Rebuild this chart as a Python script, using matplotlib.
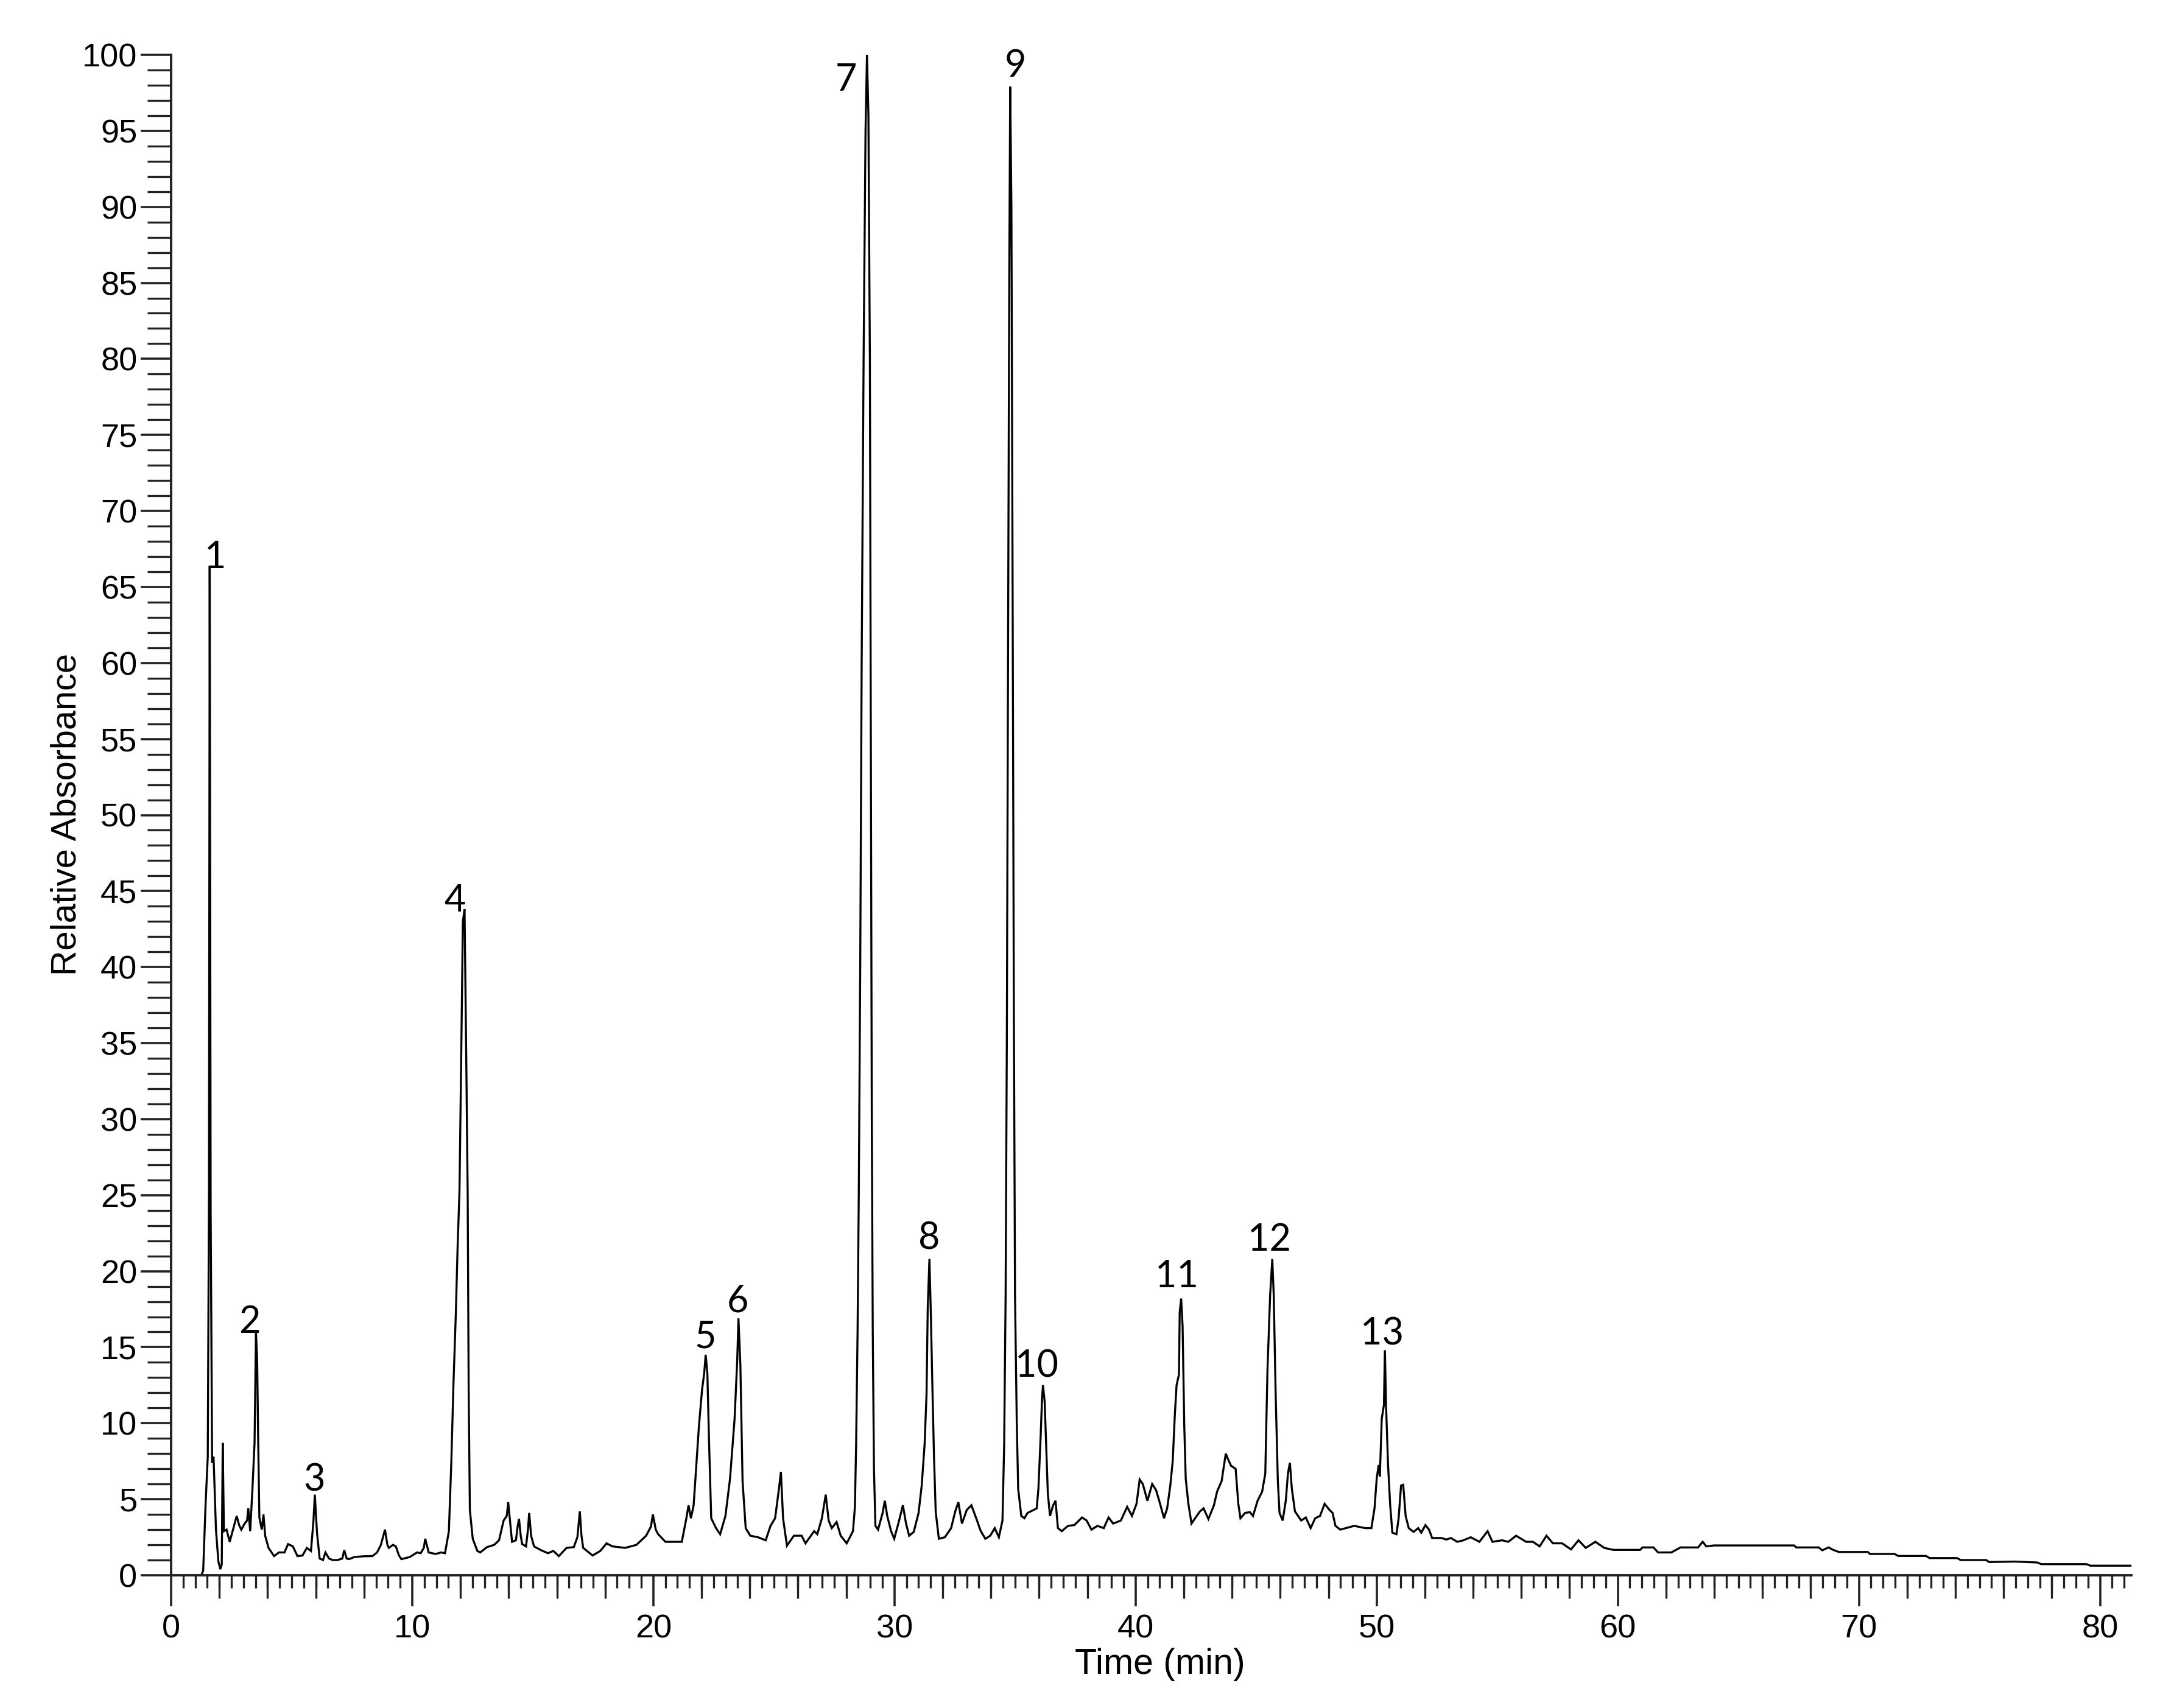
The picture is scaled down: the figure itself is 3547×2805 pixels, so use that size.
import numpy as np
import matplotlib
matplotlib.use("Agg")
import matplotlib.pyplot as plt
from matplotlib.ticker import MultipleLocator

# ---------------- data ----------------
time_min = [
    1.25, 1.33, 1.43, 1.52, 1.57, 1.60, 1.64, 1.70, 1.76, 1.86, 1.96, 2.04, 2.10, 2.14, 2.19,
    2.30, 2.43, 2.60, 2.72, 2.82, 2.91, 3.05, 3.15, 3.20, 3.28, 3.37, 3.46, 3.52, 3.57, 3.61,
    3.66, 3.76, 3.83, 3.90, 4.04, 4.27, 4.47, 4.70, 4.85, 5.05, 5.24, 5.45, 5.63, 5.80, 5.90,
    5.96, 6.05, 6.16, 6.30, 6.40, 6.55, 6.70, 6.90, 7.10, 7.18, 7.28, 7.38, 7.60, 8.00, 8.35,
    8.54, 8.70, 8.87, 8.97, 9.03, 9.20, 9.32, 9.45, 9.55, 9.90, 10.20, 10.35, 10.48, 10.54, 10.62,
    10.68, 10.97, 11.20, 11.36, 11.52, 11.62, 11.71, 11.81, 11.88, 11.96, 12.03, 12.10, 12.17, 12.25,
    12.30, 12.34, 12.39, 12.51, 12.70, 12.82, 13.10, 13.40, 13.60, 13.79, 13.92, 13.98, 14.06, 14.14,
    14.30, 14.38, 14.43, 14.50, 14.56, 14.72, 14.80, 14.85, 14.93, 15.05, 15.34, 15.63, 15.85, 16.08,
    16.40, 16.70, 16.85, 16.95, 17.02, 17.09, 17.48, 17.80, 18.06, 18.30, 18.83, 19.30, 19.70, 19.90,
    19.98, 20.10, 20.20, 20.50,
    20.66, 21.18, 21.37, 21.46, 21.56, 21.67, 21.76, 21.89, 22.02, 22.11, 22.17, 22.24, 22.31, 22.40,
    22.60, 22.77, 22.99, 23.18, 23.37, 23.48, 23.53, 23.61, 23.70, 23.83, 24.02, 24.34, 24.66, 24.86,
    25.05, 25.21, 25.29, 25.38, 25.54, 25.83, 26.15, 26.31, 26.67, 26.80, 26.99, 27.15, 27.27, 27.40,
    27.60, 27.77, 28.02, 28.28, 28.36, 28.41, 28.47, 28.52, 28.58, 28.64, 28.72, 28.80, 28.86, 28.92,
    28.98, 29.02, 29.06, 29.10, 29.15, 29.21, 29.32, 29.51, 29.60, 29.70, 29.86, 29.99, 30.16, 30.35,
    30.48, 30.61, 30.80, 31.00, 31.13, 31.25, 31.33, 31.38, 31.45, 31.51, 31.58, 31.64, 31.71, 31.84,
    32.09, 32.35, 32.52, 32.65, 32.80, 33.00, 33.19, 33.39, 33.58, 33.77, 33.97, 34.16, 34.33, 34.48,
    34.55, 34.61, 34.66, 34.71, 34.76, 34.80, 34.85, 34.90, 34.95, 35.00, 35.07, 35.13, 35.26, 35.39,
    35.52, 35.65, 35.90, 35.97, 36.06, 36.12, 36.16, 36.23, 36.29, 36.36, 36.45, 36.58, 36.68, 36.78,
    36.94, 37.20, 37.46, 37.78, 37.97, 38.17, 38.42, 38.68, 38.88, 39.07, 39.39, 39.65, 39.85, 40.04,
    40.17, 40.30, 40.49, 40.69,
    40.85, 40.98, 41.18, 41.31, 41.44, 41.54, 41.63, 41.70, 41.80, 41.83, 41.89, 41.95, 42.02, 42.08,
    42.19, 42.32, 42.47, 42.67, 42.82, 43.02, 43.25, 43.38, 43.57, 43.74, 43.83, 43.96, 44.15, 44.26,
    44.35, 44.54, 44.74, 44.87, 45.06, 45.25, 45.38, 45.47, 45.58, 45.67, 45.73, 45.81, 45.90, 45.97,
    46.10, 46.23, 46.32, 46.40, 46.48, 46.61, 46.87, 47.06, 47.26, 47.45, 47.65, 47.84, 48.04, 48.17,
    48.29, 48.49, 49.07, 49.52, 49.78, 49.91, 50.00, 50.08, 50.13, 50.21, 50.30, 50.34, 50.39, 50.47,
    50.56, 50.65, 50.82, 50.91, 51.01, 51.10, 51.20, 51.33, 51.53, 51.72, 51.85, 52.02, 52.17, 52.30,
    52.69, 52.89, 53.08, 53.34,
    53.60, 53.90, 54.26, 54.60, 54.80, 55.20, 55.46, 55.78, 56.20, 56.48, 56.76, 57.04, 57.31, 57.69,
    58.06, 58.37, 58.67, 59.07, 59.44, 59.81, 60.93, 61.02, 61.48, 61.67, 62.22, 62.60, 63.33, 63.52,
    63.67, 63.98, 67.31, 67.40, 68.33, 68.48, 68.74, 68.93, 69.17, 70.37, 70.46, 71.48, 71.63, 72.78,
    72.93, 74.07, 74.22, 75.28, 75.40, 76.48, 77.40, 77.56, 79.44, 79.60, 81.26,
]
absorbance = [
    0.0, 0.3, 4.7, 7.8, 25.0, 66.4, 24.0, 7.4, 7.8, 3.0, 0.9, 0.4, 0.7, 8.7, 2.9,
    3.0, 2.2, 3.2, 3.9, 3.3, 3.0, 3.4, 3.6, 4.4, 2.9, 5.6, 8.7, 16.0, 14.0, 9.0,
    3.8, 3.0, 4.0, 2.6, 1.8, 1.26, 1.5, 1.5, 2.05, 1.9, 1.26, 1.3, 1.8, 1.6, 3.5,
    5.3, 2.8, 1.1, 1.0, 1.5, 1.1, 1.0, 1.0, 1.1, 1.65, 1.1, 1.06, 1.2, 1.25, 1.26,
    1.5, 2.0, 3.0, 2.0, 1.8, 2.0, 1.9, 1.3, 1.06, 1.2, 1.5, 1.45, 1.8, 2.4, 1.9,
    1.5, 1.4, 1.5, 1.45, 2.9, 7.4, 12.6, 17.3, 21.5, 25.3, 33.9, 43.0, 43.8, 32.6,
    25.0, 12.3, 4.3, 2.4, 1.6, 1.5, 1.85, 2.0, 2.3, 3.6, 3.9, 4.8, 3.5, 2.2,
    2.3, 3.3, 3.7, 2.6, 2.05, 1.9, 3.0, 4.1, 2.6, 1.9, 1.65, 1.45, 1.6, 1.26,
    1.8, 1.85, 2.5, 4.2, 2.6, 1.8, 1.3, 1.6, 2.1, 1.9, 1.8, 2.0, 2.6, 3.2,
    4.0, 3.0, 2.7, 2.2,
    2.2, 2.2, 3.75, 4.6, 3.75, 4.6, 6.7, 9.8, 12.2, 13.3, 14.5, 13.3, 8.8, 3.75,
    3.1, 2.7, 3.9, 6.35, 10.3, 14.2, 16.9, 13.8, 6.2, 3.1, 2.6, 2.5, 2.3, 3.25,
    3.75, 5.7, 6.8, 3.75, 1.95, 2.6, 2.6, 2.1, 2.9, 2.7, 3.75, 5.3, 3.6, 3.1,
    3.5, 2.6, 2.1, 2.9, 4.5, 8.6, 16.0, 25.0, 40.0, 60.0, 80.0, 95.0, 100.0, 96.0,
    80.0, 55.0, 30.0, 16.0, 7.0, 3.25, 3.0, 4.1, 4.9, 3.9, 2.9, 2.4, 3.4, 4.6,
    3.4, 2.6, 2.85, 4.1, 5.9, 8.6, 11.9, 17.6, 20.8, 17.1, 11.9, 7.8, 4.2, 2.4,
    2.5, 3.1, 4.2, 4.8, 3.4, 4.3, 4.6, 3.75, 2.9, 2.4, 2.6, 3.1, 2.5, 3.6,
    8.6, 18.4, 35.0, 60.0, 85.0, 97.9, 90.0, 65.0, 38.0, 18.4, 10.3, 5.7, 3.9, 3.75,
    4.1, 4.2, 4.4, 5.7, 9.0, 11.6, 12.5, 11.4, 8.6, 5.4, 3.9, 4.6, 4.9, 3.1,
    2.9, 3.25, 3.3, 3.8, 3.6, 3.0, 3.25, 3.1, 3.8, 3.4, 3.6, 4.5, 3.9, 4.7,
    6.3, 6.0, 4.9, 6.0,
    5.6, 4.9, 3.75, 4.4, 5.9, 7.5, 10.6, 12.5, 13.2, 17.3, 18.2, 16.4, 9.8, 6.35,
    4.7, 3.4, 3.75, 4.2, 4.4, 3.7, 4.6, 5.5, 6.2, 8.0, 7.65, 7.2, 7.0, 4.7,
    3.75, 4.1, 4.15, 3.9, 4.9, 5.5, 6.7, 13.5, 18.4, 20.8, 18.4, 11.9, 6.2, 4.1,
    3.6, 4.9, 6.7, 7.4, 5.7, 4.2, 3.6, 3.8, 3.1, 3.75, 3.9, 4.7, 4.3, 4.1,
    3.25, 3.0, 3.25, 3.1, 3.1, 4.4, 6.35, 7.25, 6.5, 10.3, 11.2, 14.8, 11.1, 7.3,
    4.6, 2.8, 2.7, 3.75, 5.9, 5.95, 3.9, 3.1, 2.85, 3.1, 2.8, 3.3, 3.0, 2.45,
    2.45, 2.35, 2.45, 2.2,
    2.3, 2.5, 2.2, 2.9, 2.2, 2.3, 2.2, 2.6, 2.2, 2.2, 1.9, 2.6, 2.1, 2.1,
    1.7, 2.3, 1.8, 2.2, 1.8, 1.67, 1.67, 1.83, 1.83, 1.5, 1.5, 1.83, 1.83, 2.2,
    1.9, 1.96, 1.96, 1.83, 1.83, 1.64, 1.83, 1.67, 1.53, 1.53, 1.4, 1.4, 1.27, 1.27,
    1.13, 1.13, 1.0, 1.0, 0.87, 0.9, 0.84, 0.73, 0.73, 0.63, 0.63,
]

peak_ids = ["1", "2", "3", "4", "5", "6", "7", "8", "9", "10", "11", "12", "13"]
label_t = [1.83, 3.26, 5.94, 11.77, 22.17, 23.49, 28.0, 31.43, 35.03, 35.89, 41.71, 45.54, 50.23]
label_v = [65.8, 15.5, 5.1, 43.2, 14.5, 16.9, 97.2, 21.0, 98.1, 12.6, 18.5, 20.9, 14.7]

x_mid = [t for t in np.arange(2, 81, 2) if t % 10 != 0]

# ---------------- figure ----------------
W, H = 3548, 2805
fig = plt.figure(figsize=(W / 100, H / 100), dpi=100)
fig.patch.set_facecolor("white")
left, right = 281 / W, 3500 / W
bottom, top = 1 - 2587 / H, 1 - 90 / H
ax = fig.add_axes([left, bottom, right - left, top - bottom])

ax.plot(time_min, absorbance, color="black", lw=2.4, clip_on=False, solid_joinstyle="miter")

ax.set_xlim(0, 81.3)
ax.set_ylim(0, 100)

for s in ["top", "right"]:
    ax.spines[s].set_visible(False)
for s in ["left", "bottom"]:
    ax.spines[s].set_linewidth(2.8)
    ax.spines[s].set_color("#222222")

tick_font = "Liberation Sans"
ax.xaxis.set_major_locator(MultipleLocator(10))
ax.xaxis.set_minor_locator(MultipleLocator(0.5))
ax.yaxis.set_major_locator(MultipleLocator(5))
ax.yaxis.set_minor_locator(MultipleLocator(1))

ax.tick_params(axis="x", which="major", direction="out", length=37, width=2.6, pad=9,
               labelsize=39, color="#222222")
ax.tick_params(axis="x", which="minor", direction="out", length=15, width=2.4, color="#222222")
ax.tick_params(axis="y", which="major", direction="out", length=36, width=2.6, pad=4,
               labelsize=39, color="#222222")
ax.tick_params(axis="y", which="minor", direction="out", length=28, width=2.4, color="#222222")
for lab in ax.get_xticklabels() + ax.get_yticklabels():
    lab.set_fontfamily(tick_font)

# medium ticks every 2 min
sec = ax.secondary_xaxis("bottom")
sec.set_xticks(x_mid)
sec.tick_params(axis="x", which="major", direction="out", length=27, width=2.4, labelbottom=False,
                color="#222222")
sec.xaxis.set_minor_locator(plt.NullLocator())
sec.spines["bottom"].set_visible(False)

ax.set_xlabel("Time (min)", fontsize=42.5, fontfamily=tick_font)
ax.xaxis.set_label_coords(0.5045, -0.0585)
ax.xaxis.label.set_va("center")
ax.set_ylabel("Relative Absorbance", fontsize=41.5, fontfamily=tick_font)
ax.yaxis.set_label_coords(-0.0534, 0.5006)
ax.yaxis.label.set_va("center")

for pid, lt, lv in zip(peak_ids, label_t, label_v):
    ax.text(lt, lv, pid, ha="center", va="bottom", fontsize=44, fontfamily="Lato",
            color="black", clip_on=False)

fig.savefig("out.png", dpi=100, facecolor="white")
